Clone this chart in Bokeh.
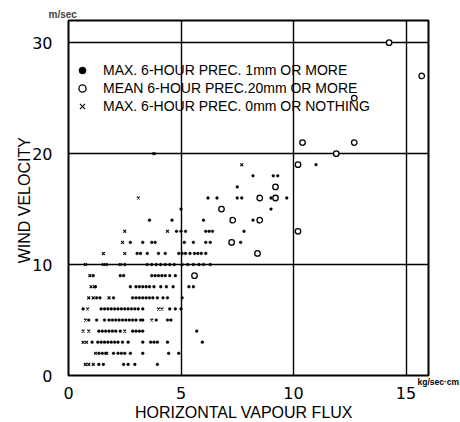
from bokeh.plotting import figure
from bokeh.models import FixedTicker, Legend, LegendItem, Title, LinearAxis
from bokeh.embed import file_html
from bokeh.resources import INLINE

# ---- data (wind velocity m/sec vs horizontal vapour flux kg/sec-cm) ----
# filled dots: max 6-hour precipitation 1 mm or more
dot_rows = {
    1: [1.35, 1.55, 2.45, 2.65, 2.95, 3.95],
    2: [1.35, 1.5, 1.65, 2.0, 2.2, 2.35, 2.5, 2.75, 3.3, 4.45, 4.9],
    3: [1.05, 1.3, 1.45, 1.6, 1.75, 1.9, 2.05, 2.2, 2.4, 2.65, 3.3, 3.65, 3.8, 3.95, 4.4, 5.95],
    4: [1.35, 1.5, 1.65, 1.8, 1.95, 2.1, 2.3, 2.85, 3.0, 3.15, 3.3, 5.7],
    5: [0.9, 1.25, 1.6, 1.8, 1.95, 2.1, 2.25, 2.4, 2.55, 2.7, 2.85, 3.0, 3.2, 3.3, 3.9, 4.4, 4.55],
    6: [0.65, 1.45, 1.6, 1.75, 1.9, 2.05, 2.2, 2.35, 2.5, 2.65, 2.8, 2.95, 3.1, 3.3, 4.5, 4.75, 5.0],
    7: [1.25, 1.4, 2.0, 2.85, 3.0, 3.15, 3.3, 3.45, 3.6, 3.75, 3.95, 4.2, 4.4, 5.05],
    8: [1.2, 2.75, 3.0, 3.15, 3.3, 3.45, 3.6, 3.8, 4.1, 4.35, 4.65, 5.35, 5.55],
    9: [1.1, 2.3, 2.45, 3.7, 3.85, 4.0, 4.15, 4.3, 4.5, 4.75],
    10: [1.7, 2.5, 3.5, 3.7, 3.9, 4.1, 4.3, 4.5, 4.7, 5.05, 5.3, 5.55, 5.8, 6.0, 6.3],
    11: [3.05, 3.2, 3.5, 4.0, 4.3, 4.9, 5.05, 5.2, 5.4, 5.6, 5.75, 5.9, 6.1],
    12: [2.75, 3.3, 3.7, 3.85, 5.15, 5.55, 6.1, 6.3, 7.65],
    13: [4.8, 5.0, 5.2, 6.1, 6.25, 6.4, 7.8],
    14: [3.6, 4.6, 6.0, 8.2],
    15: [5.0, 9.0],
    16: [6.2, 6.6, 7.5, 7.7, 9.0, 9.7],
    17: [7.5],
    18: [8.2, 9.1, 9.3],
    19: [11.0],
}
# crosses: max 6-hour precipitation 0 mm or nothing
cross_rows = {
    1: [0.75, 0.9, 1.1],
    2: [1.2, 1.7],
    3: [0.65, 0.8],
    4: [0.65, 0.9, 2.5],
    5: [0.75, 3.7],
    6: [0.85, 4.0, 4.15],
    7: [0.9, 1.1, 1.8],
    8: [1.0, 1.15],
    9: [0.95],
    10: [0.75, 1.55, 2.3],
    11: [1.55, 2.5],
    12: [2.4],
    13: [2.5, 4.4],
    16: [3.1],
    19: [7.7],
    20: [3.8],
}
# open circles: mean 6-hour precipitation 20 mm or more
circ_x = [5.6, 7.25, 8.4, 7.3, 8.5, 6.8, 8.5, 9.2, 9.2, 10.2, 10.2, 11.9, 10.4, 12.7, 12.7, 15.7, 14.25]
circ_y = [9, 12, 11, 14, 14, 15, 16, 16, 17, 13, 19, 20, 21, 21, 25, 27, 30]

dot_x = [x for y, xs in dot_rows.items() for x in xs]
dot_y = [y for y, xs in dot_rows.items() for x in xs]
cross_x = [x for y, xs in cross_rows.items() for x in xs]
cross_y = [y for y, xs in cross_rows.items() for x in xs]

x_ticks = [0, 5, 10, 15]
y_ticks = [0, 10, 20, 30]
legend_labels = [
    "MAX. 6-HOUR PREC. 1mm OR MORE",
    "MEAN 6-HOUR PREC.20mm OR MORE",
    "MAX. 6-HOUR PREC. 0mm OR NOTHING",
]
x_unit = "kg/sec\u00b7cm"
y_unit = "m/sec"

FONT = "Liberation Sans"
TICK_FONT = "DejaVu Sans"

p = figure(frame_width=360, frame_height=355, x_range=(0, 16), y_range=(0, 32),
           output_backend="svg", toolbar_location=None,
           min_border_left=68, min_border_right=30, min_border_top=20, min_border_bottom=45,
           background_fill_color="white", border_fill_color="white")

p.add_layout(Title(text=y_unit, align="left", offset=-20, standoff=2,
                   text_font=FONT, text_font_size="10px", text_font_style="bold"), "above")

p.outline_line_color = "black"
p.outline_line_width = 2

for ax in (p.xaxis[0], p.yaxis[0]):
    ax.axis_line_color = None
    ax.major_tick_line_color = None
    ax.minor_tick_line_color = None
    ax.major_label_text_font = TICK_FONT
    ax.major_label_text_font_size = "16px"
    ax.major_label_text_color = "black"
    ax.axis_label_text_font = FONT
    ax.axis_label_text_font_size = "16px"
    ax.axis_label_text_font_style = "normal"
    ax.axis_label_text_color = "black"

p.xaxis.ticker = FixedTicker(ticks=x_ticks)
p.yaxis.ticker = FixedTicker(ticks=y_ticks)
p.xaxis.major_label_standoff = 5
p.yaxis.major_label_standoff = 10
p.xaxis.axis_label = "HORIZONTAL  VAPOUR  FLUX"
p.yaxis.axis_label = "WIND  VELOCITY"
p.xaxis.axis_label_standoff = 2
p.yaxis.axis_label_standoff = -4

# unit of the x axis, written at the lower right corner of the frame
unit_axis = LinearAxis(ticker=FixedTicker(ticks=[0]), major_label_overrides={0: "\n" + x_unit},
                       axis_line_color=None, major_tick_line_color=None,
                       minor_tick_line_color=None, major_label_standoff=-17,
                       major_label_text_font=FONT, major_label_text_font_size="8.5px",
                       major_label_text_font_style="bold", major_label_text_color="black")
p.add_layout(unit_axis, "right")

p.xgrid.ticker = FixedTicker(ticks=x_ticks[1:])
p.ygrid.ticker = FixedTicker(ticks=y_ticks[1:])
for g in (p.xgrid[0], p.ygrid[0]):
    g.grid_line_color = "black"
    g.grid_line_width = 1.4
    g.grid_line_alpha = 1.0

r_dot = p.scatter(dot_x, dot_y, marker="circle", size=2.8, fill_color="black",
                  line_color="black", line_width=0.4)
r_circ = p.scatter(circ_x, circ_y, marker="circle", size=5.5, fill_color="white",
                   line_color="black", line_width=1.3)
r_cross = p.scatter(cross_x, cross_y, marker="x", size=4, line_color="black", line_width=1.1)

legend = Legend(items=[LegendItem(label=legend_labels[0], renderers=[r_dot]),
                       LegendItem(label=legend_labels[1], renderers=[r_circ]),
                       LegendItem(label=legend_labels[2], renderers=[r_cross])],
                location=(5, 260), margin=0, padding=0, spacing=0,
                glyph_width=18, glyph_height=18, label_standoff=12,
                label_text_font=FONT, label_text_font_size="14px", label_text_color="black",
                background_fill_alpha=0, border_line_alpha=0)
p.add_layout(legend)

open("out.html", "w").write(file_html(p, INLINE))
